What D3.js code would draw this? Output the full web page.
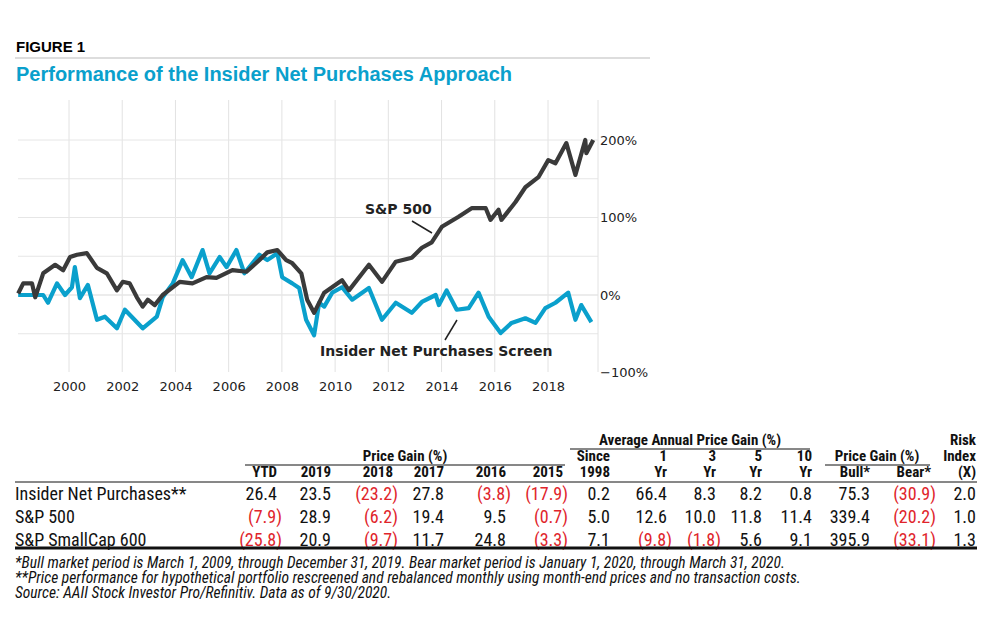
<!DOCTYPE html>
<html><head><meta charset="utf-8">
<script src="https://cdn.jsdelivr.net/npm/d3@7"></script>
<style>
body{margin:0;background:#fff}
.tb{font-family:"Liberation Sans Narrow","Roboto Condensed","Liberation Sans",sans-serif}
</style></head>
<body><svg id="c" width="1000" height="624"></svg>
<script>
// S&P 500 cumulative % (year, value)
const spYears = [1998.09,1998.28,1998.61,1998.73,1999.03,1999.48,1999.78,2000.04,2000.30,2000.67,2001.05,2001.42,2001.80,2002.02,2002.28,2002.55,2002.77,2002.96,2003.22,2003.52,2004.16,2004.64,2005.17,2005.54,2006.14,2006.67,2007.15,2007.45,2007.83,2008.16,2008.39,2008.73,2008.95,2009.21,2009.59,2010.26,2010.52,2011.27,2011.76,2012.28,2012.88,2013.26,2013.63,2014.01,2014.64,2015.13,2015.66,2015.84,2016.14,2016.25,2016.78,2017.15,2017.64,2018.01,2018.28,2018.69,2019.03,2019.40,2019.44,2019.70];
const spValues = [2,15,15,-3,28,39,32,49,52,54,35,28,6,17,15,-3,-15,-6,-13,0,17,15,23,22,32,30,45,55,58,45,41,28,-6,-23,3,19,6,39,17,43,48,61,68,88,101,112,112,97,110,97,120,139,152,174,170,196,155,200,183,200];
// Insider Net Purchases Screen
const inYears = [1998.09,1999.03,1999.21,1999.55,1999.85,2000.11,2000.22,2000.41,2000.71,2001.05,2001.35,2001.80,2002.10,2002.77,2003.30,2003.52,2003.90,2004.27,2004.61,2005.02,2005.28,2005.66,2005.92,2006.29,2006.59,2007.15,2007.45,2007.83,2008.01,2008.39,2008.65,2008.91,2009.21,2009.40,2009.59,2009.89,2010.26,2010.64,2011.27,2011.76,2012.28,2012.88,2013.26,2013.78,2013.90,2014.19,2014.57,2015.02,2015.39,2015.77,2016.22,2016.63,2017.15,2017.53,2017.90,2018.28,2018.76,2019.03,2019.25,2019.63];
const inValues = [0,0,-10,15,0,10,36,-4,13,-32,-28,-43,-19,-43,-28,-3,15,45,23,58,28,49,36,58,28,52,45,54,23,15,9,-32,-52,-10,-15,3,10,-6,9,-32,-10,-23,-9,0,-13,6,-19,-17,3,-28,-49,-36,-30,-36,-17,-10,3,-32,-13,-35];
const xTicks = [2000,2002,2004,2006,2008,2010,2012,2014,2016,2018];
const yTicks = [200,100,0,-100];

const tableCols = ["YTD","2019","2018","2017","2016","2015","1998","Yr","Yr","Yr","Yr","Bull*","Bear*","(X)"];
const rowNames = ["Insider Net Purchases**","S&P 500","S&P SmallCap 600"];
const rowInsider = [26.4,23.5,-23.2,27.8,-3.8,-17.9,0.2,66.4,8.3,8.2,0.8,75.3,-30.9,2.0];
const rowSP500 = [-7.9,28.9,-6.2,19.4,9.5,-0.7,5.0,12.6,10.0,11.8,11.4,339.4,-20.2,1.0];
const rowSmall = [-25.8,20.9,-9.7,11.7,24.8,-3.3,7.1,-9.8,-1.8,5.6,9.1,395.9,-33.1,1.3];
const footnotes = ["*Bull market period is March 1, 2009, through December 31, 2019. Bear market period is January 1, 2020, through March 31, 2020.",
 "**Price performance for hypothetical portfolio rescreened and rebalanced monthly using month-end prices and no transaction costs.",
 "Source: AAII Stock Investor Pro/Refinitiv. Data as of 9/30/2020."];

const svg = d3.select("#c");
const blue = "#0aa0cc", dark = "#3a3a3a", red = "#e0242b";

svg.append("text").attr("x",16).attr("y",52).attr("font-family","Liberation Sans, Arial").attr("font-weight","bold").attr("font-size",15).text("FIGURE 1");
svg.append("line").attr("x1",15).attr("x2",650).attr("y1",58).attr("y2",58).attr("stroke","#bbb");
svg.append("text").attr("x",16).attr("y",81).attr("font-family","Liberation Sans, Arial").attr("font-weight","bold").attr("font-size",20).attr("fill",blue).text("Performance of the Insider Net Purchases Approach");

const x = d3.scaleLinear().domain([2000,2018]).range([69,548]);
const y = d3.scaleLinear().domain([0,200]).range([295,140]);
const g = svg.append("g").attr("font-family","DejaVu Sans, Verdana");

g.selectAll(".vg").data(xTicks).join("line").attr("x1",d=>x(d)).attr("x2",d=>x(d)).attr("y1",100).attr("y2",372).attr("stroke","#e2e2e2");
g.selectAll(".hg").data(d3.range(-50,201,50)).join("line").attr("x1",18).attr("x2",598).attr("y1",d=>y(d)).attr("y2",d=>y(d)).attr("stroke","#e6e6e6").attr("stroke-width",d=>d===0?1.5:1);
g.append("line").attr("x1",598).attr("x2",598).attr("y1",100).attr("y2",372).attr("stroke","#e2e2e2");

const xAxis = g.append("g").attr("transform","translate(0,372)").call(d3.axisBottom(x).tickValues(xTicks).tickFormat(d3.format("d")).tickSize(0).tickPadding(10));
xAxis.select(".domain").remove();
xAxis.selectAll("text").attr("font-size",13).attr("fill","#222").attr("font-family","DejaVu Sans, Verdana");
const yAxis = g.append("g").attr("transform","translate(598,0)").call(d3.axisRight(y).tickValues(yTicks).tickFormat(d=>(d<0?"\u2212":"")+Math.abs(d)+"%").tickSize(0).tickPadding(2));
yAxis.select(".domain").remove();
yAxis.selectAll("text").attr("font-size",13).attr("fill","#222").attr("font-family","DejaVu Sans, Verdana");

const line = d3.line().x(d=>x(d[0])).y(d=>y(d[1]));
g.append("path").datum(d3.zip(inYears,inValues)).attr("d",line).attr("fill","none").attr("stroke",blue).attr("stroke-width",4.2).attr("stroke-linejoin","round");
g.append("path").datum(d3.zip(spYears,spValues)).attr("d",line).attr("fill","none").attr("stroke",dark).attr("stroke-width",4.2).attr("stroke-linejoin","round");

g.append("text").attr("x",365).attr("y",214).attr("font-weight","bold").attr("font-size",14).attr("fill","#222").text("S&P 500");
g.append("line").attr("x1",412).attr("y1",221).attr("x2",432).attr("y2",233).attr("stroke","#222").attr("stroke-width",1.5);
g.append("text").attr("x",320).attr("y",356).attr("font-weight","bold").attr("font-size",14).attr("fill","#222").text("Insider Net Purchases Screen");
g.append("line").attr("x1",445).attr("y1",340).attr("x2",457).attr("y2",320).attr("stroke","#222").attr("stroke-width",1.5);

// table
const t = svg.append("g").attr("class","tb").attr("fill","#111");
const colX = [277,331,393,444,506,563,610,667,716,762,812,870,931,976];
const hdr = (txt,xx,yy,anchor="end")=>t.append("text").attr("x",xx).attr("y",yy).attr("text-anchor",anchor).attr("font-weight","bold").attr("font-size",15).text(txt);
tableCols.forEach((c,i)=>hdr(c,colX[i],477));
const upper = {6:"Since",7:"1",8:"3",9:"5",10:"10",13:"Index"};
Object.entries(upper).forEach(([i,s])=>hdr(s,colX[i],461));
hdr("Risk",976,445);
hdr("Price Gain (%)",405,461,"middle");
hdr("Average Annual Price Gain (%)",690,445,"middle");
hdr("Price Gain (%)",877,461,"middle");
t.append("line").attr("x1",245).attr("x2",565).attr("y1",465).attr("y2",465).attr("stroke","#111");
t.append("line").attr("x1",570).attr("x2",810).attr("y1",449).attr("y2",449).attr("stroke","#111");
t.append("line").attr("x1",825).attr("x2",930).attr("y1",465).attr("y2",465).attr("stroke","#111");
t.append("line").attr("x1",15).attr("x2",977).attr("y1",482).attr("y2",482).attr("stroke","#111");
[rowInsider,rowSP500,rowSmall].forEach((row,r)=>{
  const yy = 500 + r*23;
  t.append("text").attr("x",15).attr("y",yy).attr("font-size",18).text(rowNames[r]);
  row.forEach((v,i)=>{
    t.append("text").attr("x",colX[i]+(v<0?5:0)).attr("y",yy).attr("text-anchor","end").attr("font-size",18)
      .attr("fill",v<0?red:"#111").text(v<0?"("+Math.abs(v).toFixed(1)+")":v.toFixed(1));
  });
});
t.append("line").attr("x1",15).attr("x2",977).attr("y1",548).attr("y2",548).attr("stroke","#111").attr("stroke-width",3);
footnotes.forEach((f,i)=>t.append("text").attr("x",15).attr("y",568+i*15).attr("font-size",15.5).attr("font-style","italic").text(f));
</script></body></html>
